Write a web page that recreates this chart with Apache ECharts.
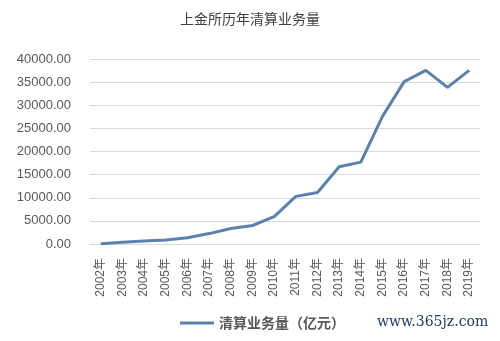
<!DOCTYPE html>
<html>
<head>
<meta charset="utf-8">
<script src="https://cdn.jsdelivr.net/npm/echarts@6/dist/echarts.min.js"></script>
<style>html,body{margin:0;padding:0;background:#fff;}#c{width:500px;height:341px;}</style>
</head>
<body>
<div id="c"></div>
<script>
var categories = ['2002年','2003年','2004年','2005年','2006年','2007年','2008年','2009年','2010年','2011年','2012年','2013年','2014年','2015年','2016年','2017年','2018年','2019年'];
var clearingValues = [80, 370, 650, 870, 1370, 2250, 3350, 4000, 5900, 10300, 11150, 16700, 17700, 27600, 35100, 37550, 33850, 37550];
var seriesName = '清算业务量（亿元）';
var titleText = '上金所历年清算业务量';
var watermark = 'www.365jz.com';

var chart = echarts.init(document.getElementById('c'), null, {renderer: 'canvas'});
chart.setOption({
  animation: false,
  backgroundColor: '#ffffff',
  title: {
    text: titleText,
    left: 'center',
    top: 7,
    textStyle: {fontFamily: 'Noto Sans CJK SC', fontSize: 14, fontWeight: 'normal', color: '#404040'}
  },
  legend: {
    data: [seriesName],
    left: 175,
    top: 311,
    itemWidth: 34,
    itemHeight: 3,
    icon: 'rect',
    itemGap: 9,
    textStyle: {fontFamily: 'Noto Sans CJK SC', fontSize: 14, fontWeight: 'bold', color: '#595959'}
  },
  graphic: [{
    type: 'text',
    left: 377,
    top: 315,
    style: {text: watermark, fontFamily: 'DejaVu Serif', fontSize: 14, fontWeight: 'normal', fill: '#1f3a6e'}
  }],
  grid: {left: 90, right: 20, top: 59, bottom: 97},
  xAxis: {
    type: 'category',
    data: categories,
    boundaryGap: true,
    axisLine: {show: true, lineStyle: {color: '#d9d9d9'}},
    axisTick: {show: false},
    axisLabel: {rotate: 90, margin: 14, fontFamily: 'Liberation Sans, Noto Sans CJK SC', fontSize: 12, color: '#595959', interval: 0}
  },
  yAxis: {
    type: 'value',
    min: 0,
    max: 40000,
    interval: 5000,
    axisLine: {show: false},
    axisTick: {show: false},
    splitLine: {lineStyle: {color: '#d9d9d9', width: 1}},
    axisLabel: {margin: 19, fontFamily: 'Liberation Sans', fontSize: 13, color: '#595959',
      formatter: function (v) { return v.toFixed(2); }}
  },
  series: [{
    name: seriesName,
    type: 'line',
    data: clearingValues,
    symbol: 'none',
    smooth: false,
    lineStyle: {color: '#5b82ad', width: 3},
    itemStyle: {color: '#5b82ad'}
  }]
});
</script>
</body>
</html>
